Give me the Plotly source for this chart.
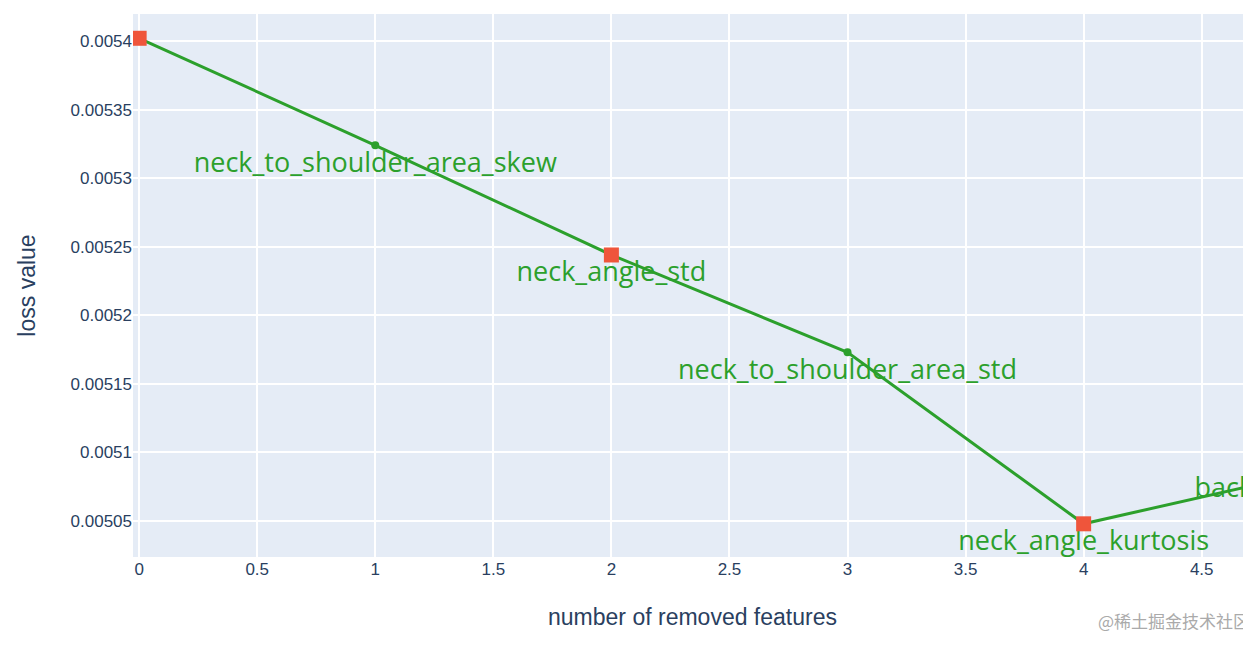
import plotly.graph_objects as go

x_vals = [0, 1, 2, 3, 4, 5]
loss_vals = [0.005402, 0.005324, 0.005244, 0.005173, 0.005048, 0.005087]
labels = ["", "neck_to_shoulder_area_skew", "neck_angle_std",
          "neck_to_shoulder_area_std", "neck_angle_kurtosis", "back_angle_kurtosis"]
sel_x = [0, 2, 4]
sel_y = [0.005402, 0.005244, 0.005048]

fig = go.Figure()
fig.add_trace(go.Scatter(x=x_vals, y=loss_vals, mode="lines+markers+text", text=labels,
                         textposition="bottom center", cliponaxis=True,
                         textfont=dict(size=27, color="#2ca02c", family="Open Sans"),
                         line=dict(color="#2ca02c", width=3), marker=dict(size=8, color="#2ca02c"),
                         showlegend=False))
fig.add_trace(go.Scatter(x=sel_x, y=sel_y, mode="markers",
                         marker=dict(symbol="square", size=15, color="#ef553b"), showlegend=False))
fig.update_layout(
    width=1251, height=646, plot_bgcolor="#e5ecf6", paper_bgcolor="white",
    margin=dict(l=125, r=7, t=6, b=97),
    font=dict(family="Liberation Sans", color="#2a3f5f", size=17),
    xaxis=dict(range=[-0.026, 4.713], dtick=0.5, gridcolor="white", gridwidth=1.5,
               title=dict(text="number of removed features", font=dict(size=23), standoff=30),
               zeroline=False),
    yaxis=dict(range=[0.0050238, 0.0054197], dtick=0.00005, gridcolor="white", gridwidth=1.5,
               title=dict(text="loss value", font=dict(size=23), standoff=28), zeroline=False),
    annotations=[dict(text="@稀土掘金技术社区", xref="paper", yref="paper", x=1.0, y=-0.09,
                      xanchor="right", yanchor="top", showarrow=False,
                      font=dict(size=17, color="#aaaaaa", family="Noto Sans CJK SC"))],
)
fig.write_html("out.html")
